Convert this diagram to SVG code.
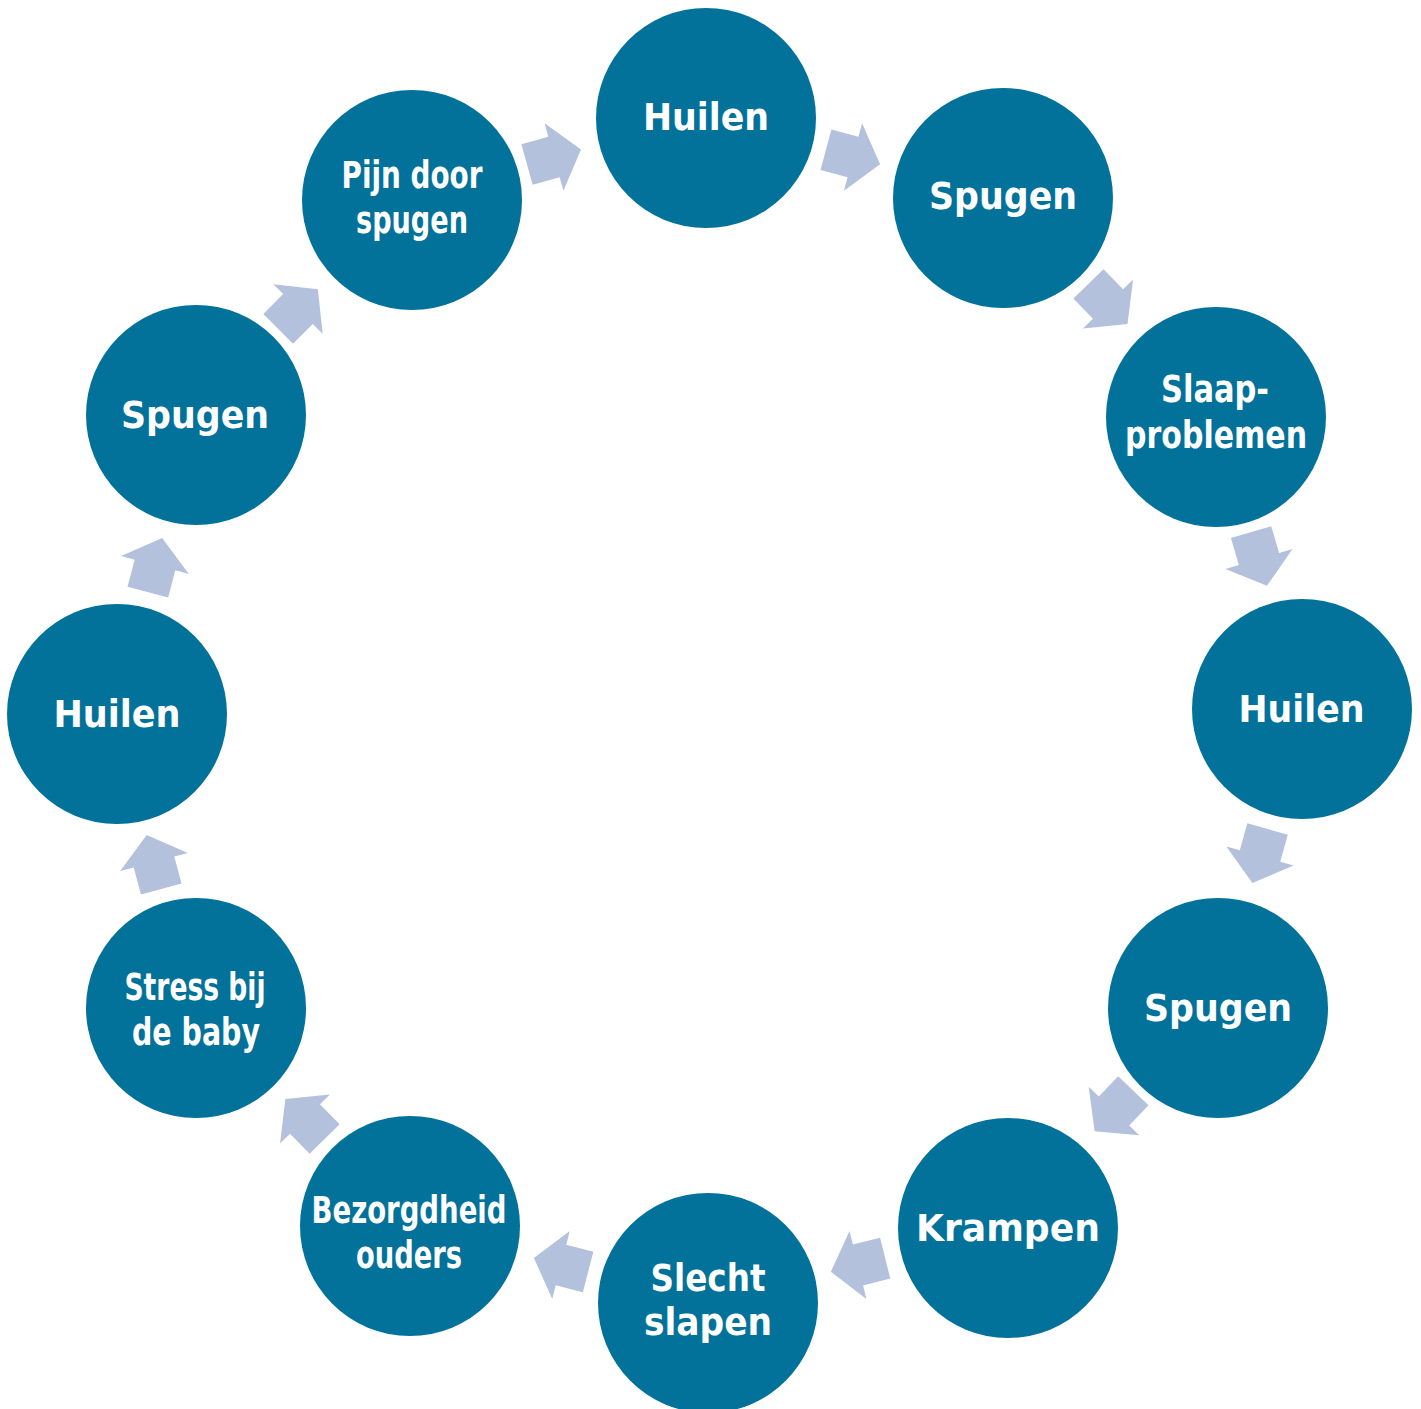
<svg xmlns="http://www.w3.org/2000/svg" width="1421" height="1409" viewBox="0 0 1421 1409">
<style>
.n{fill:#02729a}
.t{font-family:"DejaVu Sans",sans-serif;font-weight:bold;font-size:37px;fill:#ffffff;text-anchor:middle}
.a{fill:#b3c1dd}
</style>
<defs>
<polygon id="arr" points="-28,-21 0,-21 0,-35 28,0 0,35 0,21 -28,21"/>
</defs>
<rect width="1421" height="1409" fill="#ffffff"/>
<g id="connectors">
<use href="#arr" class="a" transform="translate(853,157) rotate(15)"/>
<use href="#arr" class="a" transform="translate(1108,304) rotate(45.8)"/>
<use href="#arr" class="a" transform="translate(1259,559) rotate(73.6)"/>
<use href="#arr" class="a" transform="translate(1260,856) rotate(105.7)"/>
<use href="#arr" class="a" transform="translate(1114,1111) rotate(133.7)"/>
<use href="#arr" class="a" transform="translate(858,1265) rotate(166)"/>
<use href="#arr" class="a" transform="translate(561,1265) rotate(194.5)"/>
<use href="#arr" class="a" transform="translate(305,1119) rotate(225.5)"/>
<use href="#arr" class="a" transform="translate(154,862) rotate(255)"/>
<use href="#arr" class="a" transform="translate(155,565) rotate(284.8)"/>
<use href="#arr" class="a" transform="translate(298,309) rotate(315.1)"/>
<use href="#arr" class="a" transform="translate(554,157) rotate(344.4)"/>
</g>
<g id="n1"><circle class="n" cx="706" cy="118" r="110"/><text class="t" x="706" y="130" textLength="126" lengthAdjust="spacingAndGlyphs">Huilen</text></g>
<g id="n2"><circle class="n" cx="1003" cy="198" r="110"/><text class="t" x="1003" y="209" textLength="148" lengthAdjust="spacingAndGlyphs">Spugen</text></g>
<g id="n3"><circle class="n" cx="1216" cy="417" r="110"/><text class="t" x="1215" y="402" textLength="108" lengthAdjust="spacingAndGlyphs">Slaap-</text><text class="t" x="1216" y="448" textLength="182" lengthAdjust="spacingAndGlyphs">problemen</text></g>
<g id="n4"><circle class="n" cx="1302" cy="709" r="110"/><text class="t" x="1301.5" y="722" textLength="126" lengthAdjust="spacingAndGlyphs">Huilen</text></g>
<g id="n5"><circle class="n" cx="1218" cy="1008" r="110"/><text class="t" x="1218" y="1021" textLength="148" lengthAdjust="spacingAndGlyphs">Spugen</text></g>
<g id="n6"><circle class="n" cx="1008" cy="1228" r="110"/><text class="t" x="1008" y="1241" textLength="184" lengthAdjust="spacingAndGlyphs">Krampen</text></g>
<g id="n7"><circle class="n" cx="708" cy="1303" r="110"/><text class="t" x="708" y="1291" textLength="115" lengthAdjust="spacingAndGlyphs">Slecht</text><text class="t" x="708" y="1335" textLength="128" lengthAdjust="spacingAndGlyphs">slapen</text></g>
<g id="n8"><circle class="n" cx="410" cy="1226" r="110"/><text class="t" x="409" y="1223" textLength="195" lengthAdjust="spacingAndGlyphs">Bezorgdheid</text><text class="t" x="409" y="1268" textLength="106" lengthAdjust="spacingAndGlyphs">ouders</text></g>
<g id="n9"><circle class="n" cx="196" cy="1008" r="110"/><text class="t" x="195" y="1000" textLength="141" lengthAdjust="spacingAndGlyphs">Stress bij</text><text class="t" x="196" y="1045" textLength="128" lengthAdjust="spacingAndGlyphs">de baby</text></g>
<g id="n10"><circle class="n" cx="117" cy="714" r="110"/><text class="t" x="117" y="727" textLength="127" lengthAdjust="spacingAndGlyphs">Huilen</text></g>
<g id="n11"><circle class="n" cx="196" cy="415" r="110"/><text class="t" x="195" y="428" textLength="148" lengthAdjust="spacingAndGlyphs">Spugen</text></g>
<g id="n12"><circle class="n" cx="412" cy="200" r="110"/><text class="t" x="412" y="188" textLength="141" lengthAdjust="spacingAndGlyphs">Pijn door</text><text class="t" x="412" y="233" textLength="112" lengthAdjust="spacingAndGlyphs">spugen</text></g>
</svg>
